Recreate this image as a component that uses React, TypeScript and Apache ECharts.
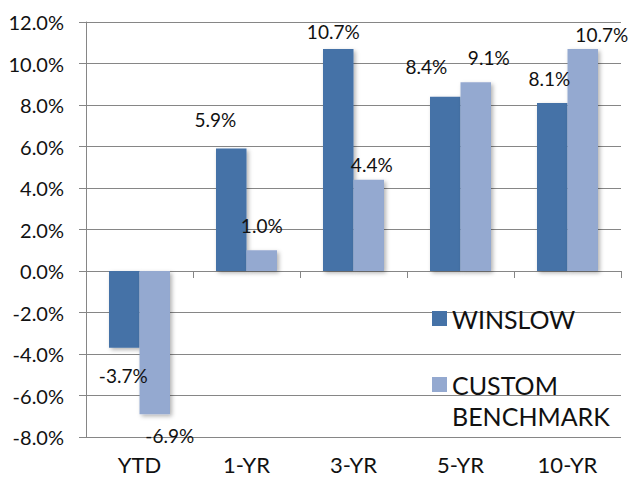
import React, { useEffect, useRef } from "react";
import * as echarts from "echarts";

const categories = ["YTD", "1-YR", "3-YR", "5-YR", "10-YR"];
const winslow = [-3.7, 5.9, 10.7, 8.4, 8.1];
const benchmark = [-6.9, 1.0, 4.4, 9.1, 10.7];
const yTicks = { min: -8, max: 12, interval: 2 };

// label nudges (style only), [dx, dy]
const winslowLabelNudge = [[-1, 13], [-16, -15], [-5, -3], [-19, -16], [-3, -10]];
const benchLabelNudge = [[15, 7], [0, -10], [3, -1], [13, -10], [19, 0]];

const FONT = "Lato";
const WIN_COLOR = "#4572A7";
const BEN_COLOR = "#94A9D0";
const GRID_COLOR = "#868686";

function buildData(values: number[], nudges: number[][]) {
  return values.map((v, i) => ({
    value: v,
    label: {
      position: v < 0 ? "bottom" : "top",
      offset: nudges[i],
    },
  }));
}

export default function App() {
  const ref = useRef<HTMLDivElement>(null);
  useEffect(() => {
    document.body.style.margin = "0";
    if (!ref.current) return;
    const chart = echarts.init(ref.current, null, { renderer: "svg" });
    const labelStyle = {
      show: true,
      fontFamily: FONT,
      fontSize: 19,
      color: "#111",
      formatter: (p: any) => Number(p.value).toFixed(1) + "%",
    };
    const shadow = {
      shadowBlur: 4,
      shadowColor: "rgba(0,0,0,0.3)",
      shadowOffsetX: 2,
      shadowOffsetY: 2,
    };
    chart.setOption({
      animation: false,
      backgroundColor: "#ffffff",
      grid: { left: 86, right: 9, top: 22, bottom: 42, containLabel: false },
      legend: {
        orient: "vertical",
        left: 427,
        top: 298,
        itemWidth: 15,
        itemHeight: 15,
        itemGap: 4,
        icon: "rect",
        data: ["WINSLOW", "CUSTOM BENCHMARK"],
        formatter: (name: string) =>
          name === "CUSTOM BENCHMARK" ? "\nCUSTOM\nBENCHMARK" : name,
        textStyle: {
          fontFamily: FONT,
          fontSize: 25,
          lineHeight: 31,
          color: "#111",
        },
      },
      xAxis: [
        {
          type: "category",
          data: categories,
          position: "bottom",
          axisLine: { show: false, onZero: false },
          axisTick: { show: false },
          axisLabel: {
            fontFamily: FONT,
            fontSize: 22,
            color: "#111",
            margin: 16,
          },
        },
        {
          type: "category",
          data: categories,
          position: "bottom",
          axisLine: { show: true, onZero: true, lineStyle: { color: GRID_COLOR, width: 1 } },
          axisTick: { show: true, length: 7, lineStyle: { color: GRID_COLOR } },
          axisLabel: { show: false },
        },
      ],
      yAxis: {
        type: "value",
        min: yTicks.min,
        max: yTicks.max,
        interval: yTicks.interval,
        axisLine: { show: true, lineStyle: { color: GRID_COLOR, width: 1 } },
        axisTick: { show: true, length: 7, lineStyle: { color: GRID_COLOR } },
        splitLine: { show: true, lineStyle: { color: GRID_COLOR, width: 1 } },
        axisLabel: {
          fontFamily: FONT,
          fontSize: 20,
          color: "#111",
          margin: 22,
          formatter: (v: number) => v.toFixed(1) + "%",
        },
      },
      series: [
        {
          name: "WINSLOW",
          type: "bar",
          xAxisIndex: 0,
          data: buildData(winslow, winslowLabelNudge),
          barGap: "0%",
          barCategoryGap: "43%",
          itemStyle: { color: WIN_COLOR, ...shadow },
          label: labelStyle,
        },
        {
          name: "CUSTOM BENCHMARK",
          type: "bar",
          xAxisIndex: 0,
          data: buildData(benchmark, benchLabelNudge),
          barGap: "0%",
          barCategoryGap: "43%",
          itemStyle: { color: BEN_COLOR, ...shadow },
          label: labelStyle,
        },
      ],
    });
    return () => chart.dispose();
  }, []);
  return <div ref={ref} style={{ width: 630, height: 479 }} />;
}
